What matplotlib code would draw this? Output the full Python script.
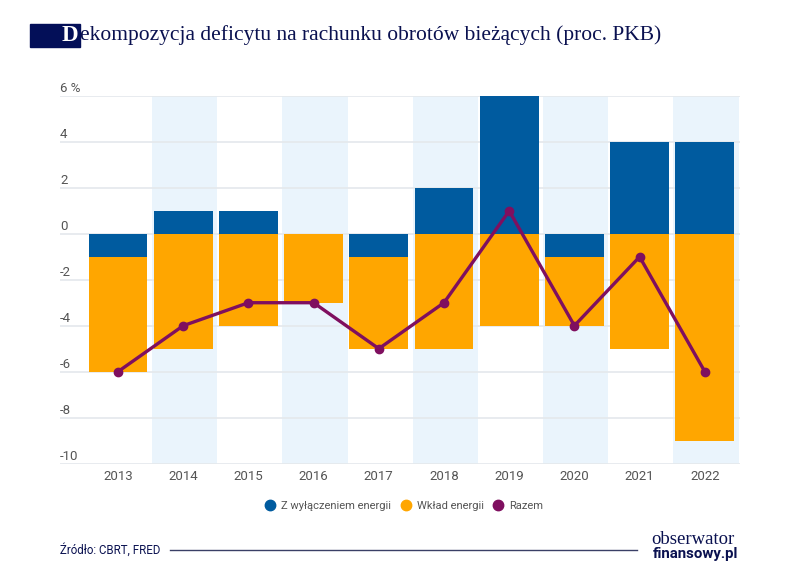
import matplotlib
matplotlib.use("Agg")
import matplotlib.pyplot as plt
from matplotlib.lines import Line2D

years = [2013, 2014, 2015, 2016, 2017, 2018, 2019, 2020, 2021, 2022]
ex_energy = [-1, 1, 1, 0, -1, 2, 6, -1, 4, 4]
energy = [-5, -5, -4, -3, -4, -5, -4, -3, -5, -9]
total = [-6, -4, -3, -3, -5, -3, 1, -4, -1, -6]
y_ticks = [6, 4, 2, 0, -2, -4, -6, -8, -10]
y_labels = ["6 %", "4", "2", "0", "-2", "-4", "-6", "-8", "-10"]
shaded_years = [2014, 2016, 2018, 2020, 2022]

BLUE, ORANGE, PURPLE = "#005b9f", "#ffa600", "#7f0f5f"
NAVY = "#0a1150"
W, H = 788, 586
SANS = ["Roboto", "DejaVu Sans"]
GREY = "#555555"

fig = plt.figure(figsize=(W / 100, H / 100), dpi=100, facecolor="white")
ax = fig.add_axes([60 / W, 1 - 463.5 / H, 680 / W, 367.5 / H])
ax.set_xlim(2013 - 0.89, 2013 + 9.54)
ax.set_ylim(-10, 6)
ax.patch.set_visible(False)

for yr in shaded_years:
    ax.axvspan(yr - 0.48, yr + 0.52, color="#eaf4fc", lw=0, zorder=0)
for t in y_ticks:
    ax.axhline(t, color="#e4e8ec", lw=1.2, zorder=1)

w = 0.9
for yr, a, b in zip(years, ex_energy, energy):
    ax.bar(yr, a, width=w, color=BLUE, zorder=2)
    ax.bar(yr, b, width=w, bottom=min(a, 0), color=ORANGE, zorder=2)
ax.plot(years, total, color=PURPLE, lw=2.4, marker="o", ms=6, zorder=3)

for s in ax.spines.values():
    s.set_visible(False)
ax.set_xticks(years)
ax.set_xticklabels(years, fontsize=9.5, color=GREY, family=SANS)
ax.tick_params(axis="x", length=0, pad=5)
ax.set_yticks([])
for t, lab in zip(y_ticks, y_labels):
    ax.annotate(lab, (0, t), xycoords=("axes fraction", "data"),
                xytext=(0, 0.5), textcoords="offset points", fontsize=9.5,
                color=GREY, family=SANS, ha="left", va="bottom")

handles = [Line2D([], [], ls="", marker="o", ms=7.5, color=c) for c in (BLUE, ORANGE, PURPLE)]
fig.legend(handles, ["Z wyłączeniem energii", "Wkład energii", "Razem"],
           loc="center", bbox_to_anchor=(401 / W, 1 - 506 / H), ncol=3, frameon=False,
           prop={"family": SANS, "size": 8}, labelcolor=GREY,
           handletextpad=0.0, columnspacing=0.3)

# title block
fig.patches.append(plt.Rectangle((30 / W, 1 - 47 / H), 50 / W, 23 / H,
                                 transform=fig.transFigure, color="#030f58"))
fig.text(62 / W, 1 - 35.5 / H, "D", color="white", fontsize=16.5, weight="bold",
         family="Liberation Serif", va="center", ha="left")
fig.text(80 / W, 1 - 35 / H, "ekompozycja deficytu na rachunku obrotów bieżących (proc. PKB)",
         color=NAVY, fontsize=15.5, family="Liberation Serif", va="center", ha="left")

# footer
fig.text(60 / W, 1 - 549.5 / H, "Źródło: CBRT, FRED", color=NAVY, fontsize=8.3,
         family=SANS, va="center", ha="left")
fig.add_artist(Line2D([170 / W, 637 / W], [1 - 549.5 / H] * 2, color="#3a3f66", lw=1))
fig.text(735 / W, 1 - 539.5 / H, "obserwator", color=NAVY, fontsize=13.5,
         family="Liberation Serif", va="center", ha="right")
fig.text(738 / W, 1 - 554 / H, "finansowy.pl", color=NAVY, fontsize=10.8, weight="bold",
         family=SANS, va="center", ha="right")

fig.savefig("out.png", dpi=100)
